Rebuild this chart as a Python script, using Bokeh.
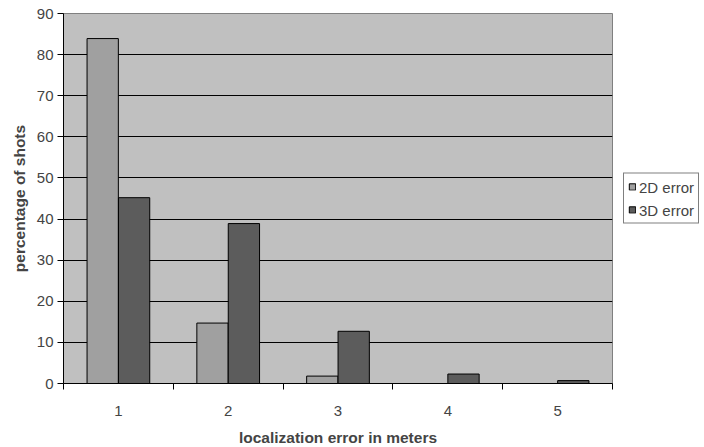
from bokeh.plotting import figure
from bokeh.models import ColumnDataSource, FixedTicker, Legend, LegendItem
from bokeh.embed import file_html
from bokeh.resources import INLINE

categories = [1, 2, 3, 4, 5]
err_2d = [83.9, 14.7, 1.8, 0.0, 0.0]
err_3d = [45.2, 38.9, 12.7, 2.3, 0.7]
series_names = ["2D error", "3D error"]
y_ticks = [0, 10, 20, 30, 40, 50, 60, 70, 80, 90]

FONT = "Liberation Sans"
bar_w = 0.285
off = 0.143

src = ColumnDataSource(dict(
    x1=[c - off for c in categories],
    x2=[c + off for c in categories],
    y1=err_2d,
    y2=err_3d,
))

p = figure(frame_width=549, frame_height=370, output_backend="svg", toolbar_location=None,
           x_range=(0.5, 5.5), y_range=(0, 90),
           min_border_left=63, min_border_right=92, min_border_top=13, min_border_bottom=64)
p.background_fill_color = "#C0C0C0"
p.border_fill_color = "white"
p.outline_line_color = "#808080"
p.outline_line_width = 1

r1 = p.vbar(x="x1", top="y1", width=bar_w, source=src, fill_color="#A0A0A0", line_color="black", line_width=1)
r2 = p.vbar(x="x2", top="y2", width=bar_w, source=src, fill_color="#5C5C5C", line_color="black", line_width=1)

# grid
p.xgrid.visible = False
p.ygrid.ticker = FixedTicker(ticks=y_ticks[1:-1])
p.ygrid.grid_line_color = "black"
p.ygrid.grid_line_width = 1

# y axis
p.yaxis.ticker = FixedTicker(ticks=y_ticks)
p.yaxis.axis_line_color = "black"
p.yaxis.major_tick_in = 0
p.yaxis.major_tick_out = 6
p.yaxis.minor_tick_line_alpha = 0
p.yaxis.major_label_text_font = FONT
p.yaxis.major_label_text_font_size = "15px"
p.yaxis.major_label_standoff = 4
p.yaxis.axis_label = "percentage of shots"
p.yaxis.axis_label_text_font = FONT
p.yaxis.axis_label_text_font_style = "bold"
p.yaxis.axis_label_text_font_size = "15.5px"
p.yaxis.axis_label_standoff = 6

# x axis
p.xaxis.ticker = FixedTicker(ticks=categories, minor_ticks=[c - 0.5 for c in categories] + [5.5])
p.xaxis.axis_line_color = "black"
p.xaxis.major_tick_in = 0
p.xaxis.major_tick_out = 0
p.xaxis.minor_tick_in = 0
p.xaxis.minor_tick_out = 6
p.xaxis.minor_tick_line_color = "black"
p.xaxis.major_label_text_font = FONT
p.xaxis.major_label_text_font_size = "15px"
p.xaxis.major_label_standoff = 16
p.xaxis.axis_label = "localization error in meters"
p.xaxis.axis_label_text_font = FONT
p.xaxis.axis_label_text_font_style = "bold"
p.xaxis.axis_label_text_font_size = "15.5px"
p.xaxis.axis_label_standoff = 10

legend = Legend(items=[LegendItem(label=series_names[0], renderers=[r1]),
                       LegendItem(label=series_names[1], renderers=[r2])],
                location="left")
legend.border_line_color = "black"
legend.border_line_width = 1
legend.background_fill_color = "white"
legend.label_text_font = FONT
legend.label_text_font_size = "15px"
legend.glyph_width = 8
legend.glyph_height = 8
legend.spacing = 5
legend.padding = 4
legend.margin = 11
legend.label_standoff = 3
legend.label_height = 18
p.add_layout(legend, "right")

open("out.html", "w").write(file_html(p, INLINE))
